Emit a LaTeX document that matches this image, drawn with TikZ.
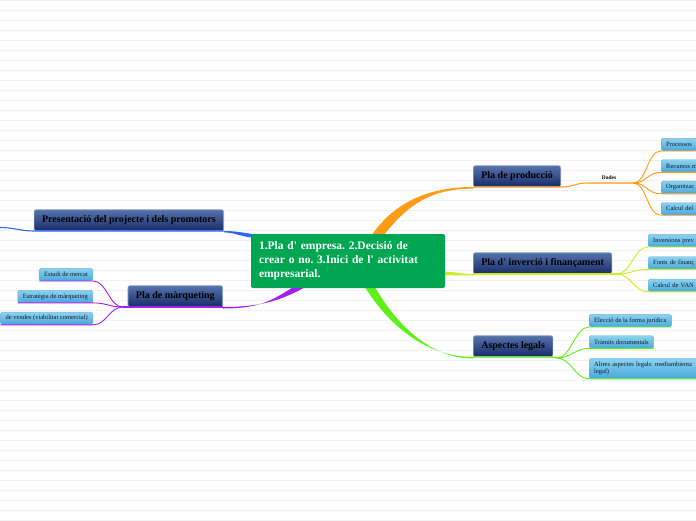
\documentclass[tikz,border=0pt]{standalone}
\usepackage{fontspec}
\setmainfont{Liberation Serif}
\usepackage{xcolor}
\usetikzlibrary{positioning, calc}
\pgfdeclarelayer{lower}
\pgfdeclarelayer{background}
\pgfsetlayers{background,lower,main}
\frenchspacing
\newcommand{\apos}{\textquotesingle}
\definecolor{bgline}{RGB}{241,241,241}
\definecolor{coregreen}{RGB}{0,166,81}
\definecolor{topictop}{RGB}{86,114,172}
\definecolor{topicbot}{RGB}{24,44,104}
\definecolor{topicrim}{RGB}{150,170,205}
\definecolor{leaftop}{RGB}{140,210,238}
\definecolor{leafbot}{RGB}{72,168,218}
\definecolor{leafrim}{RGB}{110,185,225}
\definecolor{leaftext}{RGB}{20,28,45}
\definecolor{brorange}{RGB}{255,155,20}
\definecolor{bryellow}{RGB}{205,238,30}
\definecolor{brgreen}{RGB}{95,240,25}
\definecolor{brblue}{RGB}{45,105,240}
\definecolor{brpurple}{RGB}{165,30,245}
\tikzset{
	core_box/.style={rectangle, rounded corners=2pt, fill=coregreen, text=white, font=\fontsize{11.5}{14}\selectfont\bfseries, minimum width=194pt, minimum height=54pt, text width=178pt, align=left, inner sep=0pt},
	topic_box/.style={rectangle, rounded corners=2pt, draw=topicrim, line width=0.6pt, top color=topictop, bottom color=topicbot, font=\fontsize{10}{11}\selectfont\bfseries, text=black, minimum height=21pt, inner xsep=8pt, inner ysep=0pt},
	leaf_box/.style={rectangle, rounded corners=1.5pt, draw=leafrim, line width=0.4pt, top color=leaftop, bottom color=leafbot, font=\fontsize{6.5}{7.5}\selectfont, text=leaftext, minimum height=12.5pt, inner xsep=5pt, inner ysep=0pt},
	leaf_cut/.style={text width=#1, align=left},
	dades_lbl/.style={font=\fontsize{5.5}{6}\selectfont\bfseries, inner sep=0pt},
	bg_line/.style={draw=bgline, line width=0.8pt},
	conn_orange/.style={draw=brorange, line width=1.1pt},
	conn_yellow/.style={draw=bryellow, line width=1.1pt},
	conn_green/.style={draw=brgreen, line width=1.1pt},
	conn_blue/.style={draw=brblue, line width=1.1pt},
	conn_purple/.style={draw=brpurple, line width=1.1pt}
}

\begin{document}
\begin{tikzpicture}[x=1pt, y=-1pt]
	\useasboundingbox (0,0) rectangle (696,520);
	\clip (0,0) rectangle (696,520);
	\begin{pgfonlayer}{background}
		\fill[white] (0,0) rectangle (696,520);
		\foreach \y in {0,10,...,520}
			\draw[bg_line] (0,\y) -- (696,\y);
	\end{pgfonlayer}
	\node[core_box] (core) at (348,261) {1.Pla d\apos{} empresa. 2.Decisió de\\crear o no. 3.Inici de l\apos{} activitat\\empresarial.};
	\node[topic_box, anchor=south west] (prod) at (473,187) {Pla de producció};
	\node[topic_box, anchor=south west] (inv) at (473,274) {Pla d\apos{} inverció i finançament};
	\node[topic_box, anchor=south west] (legal) at (473,357) {Aspectes legals};
	\node[topic_box, anchor=south east] (pres) at (224,231) {Presentació del projecte i dels promotors};
	\node[topic_box, anchor=south east] (marq) at (223,307) {Pla de màrqueting};
	\node[dades_lbl] (dades) at (609,177.5) {Dades};
	\coordinate (dades_l) at (588,183);
	\coordinate (dades_hub) at (633,183);
	\coordinate (inv_hub) at (617,274);
	\coordinate (legal_hub) at (557,358);
	\coordinate (marq_hub) at (123,307);
	\coordinate (pres_out) at (0,227.5);
	\node[leaf_box, leaf_cut=45pt, anchor=south west] (proc) at (661,151) {Processos};
	\node[leaf_box, leaf_cut=45pt, below=8.5pt of proc.south west, anchor=north west] (recur) {Recursos m};
	\node[leaf_box, leaf_cut=45pt, below=8.5pt of recur.south west, anchor=north west] (organ) {Organitzac};
	\node[leaf_box, leaf_cut=45pt, below=8.5pt of organ.south west, anchor=north west] (calcp) {Calcul del};
	\node[leaf_box, leaf_cut=55pt, anchor=south west] (invprev) at (648,247) {Inversions prev};
	\node[leaf_box, leaf_cut=55pt, below=9.5pt of invprev.south west, anchor=north west] (fonts) {Fonts de finanç};
	\node[leaf_box, leaf_cut=55pt, below=9.5pt of fonts.south west, anchor=north west] (van) {Calcul de VAN};
	\node[leaf_box, anchor=south west] (elec) at (589,327) {Elecció de la forma jurídica};
	\node[leaf_box, below=8.5pt of elec.south west, anchor=north west] (tram) {Tràmits documentals};
	\node[leaf_box, leaf_cut=112pt, minimum height=20pt, below=10pt of tram.south west, anchor=north west] (altres) {Altres aspectes legals: mediambienta\\legal)};
	\node[leaf_box, anchor=south east] (estudi) at (93,281) {Estudi de mercat};
	\node[leaf_box, below=9pt of estudi.south east, anchor=north east] (estrat) {Estratègia de màrqueting};
	\node[leaf_box, below=9pt of estrat.south east, anchor=north east] (vendes) {de vendes (viabilitat comercial)};
	\begin{pgfonlayer}{lower}
		\fill[brorange] ($(core.north)+(24,1)$) .. controls +(22,-32) and +(-45,0) .. (prod.south west) -- ($(prod.south west)+(0,1.6)$) .. controls +(-42,0) and +(24,-30) .. ($(core.north)+(36,1)$) -- cycle;
		\fill[bryellow] ($(core.south east)+(-1,-16.5)$) .. controls +(10,0) and +(-10,0) .. (inv.south west) -- ($(inv.south west)+(0,1.4)$) .. controls +(-10,0) and +(10,0) .. ($(core.south east)+(-1,-13)$) -- cycle;
		\fill[brgreen] ($(core.south)+(17,-1)$) .. controls +(25,40) and +(-45,0) .. (legal.south west) -- ($(legal.south west)+(0,1.5)$) .. controls +(-42,0) and +(22,38) .. ($(core.south)+(27,-1)$) -- cycle;
		\fill[brpurple] ($(core.south)+(-43,-1)$) .. controls +(-25,14) and +(35,0) .. (marq.south east) -- ($(marq.south east)+(0,1.5)$) .. controls +(35,0) and +(-22,14) .. ($(core.south)+(-55,-1)$) -- cycle;
		\fill[brblue] ($(core.north west)+(3,0.5)$) .. controls +(-12,-2) and +(10,0) .. (pres.south east) -- ($(pres.south east)+(0,1.4)$) .. controls +(10,0) and +(-12,-1) .. ($(core.north west)+(3,4)$) -- cycle;
	\end{pgfonlayer}
	\draw[conn_orange] (prod.south west) -- (prod.south east) .. controls +(14,0) and +(-14,0) .. (dades_l) -- (dades_hub);
	\foreach \leaf in {proc,recur,organ,calcp}
		\draw[conn_orange, line width=0.9pt] (dades_hub) .. controls +(14,0) and +(-14,0) .. (\leaf.south west) -- (\leaf.south east);
	\draw[conn_yellow] (inv.south west) -- (inv.south east) -- (inv_hub);
	\foreach \leaf in {invprev,fonts,van}
		\draw[conn_yellow, line width=0.9pt] (inv_hub) .. controls +(14,0) and +(-14,0) .. (\leaf.south west) -- (\leaf.south east);
	\draw[conn_green] (legal.south west) -- (legal.south east) -- (legal_hub);
	\foreach \leaf in {elec,tram,altres}
		\draw[conn_green, line width=0.9pt] (legal_hub) .. controls +(14,0) and +(-14,0) .. (\leaf.south west) -- (\leaf.south east);
	\draw[conn_blue] (pres.south east) -- (pres.south west) .. controls +(-14,0) and +(14,0) .. (pres_out) -- +(-10,0);
	\draw[conn_purple] (marq.south east) -- (marq.south west) -- (marq_hub);
	\foreach \leaf in {estudi,estrat,vendes}
		\draw[conn_purple, line width=0.9pt] (marq_hub) .. controls +(-14,0) and +(14,0) .. (\leaf.south east) -- (\leaf.south west);
\end{tikzpicture}
\end{document}
